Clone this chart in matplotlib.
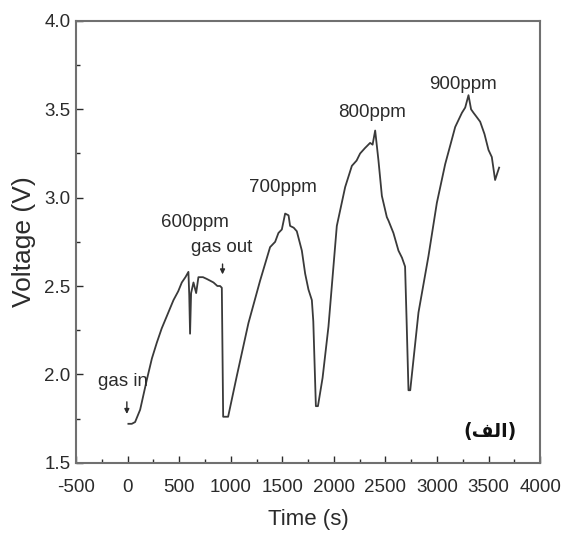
import matplotlib
matplotlib.use("Agg")
import matplotlib.pyplot as plt
from matplotlib.ticker import MultipleLocator

# sensor response: time (s) vs voltage (V)
time_s = [7, 40, 72, 121, 186, 235, 283, 330, 380, 444, 490, 525, 560, 589,
          597, 605, 615, 638, 664, 686, 730, 767, 800, 832, 870, 896, 913,
          926, 950, 974, 1058, 1171, 1284, 1381, 1430, 1462, 1495, 1527, 1560,
          1575, 1610, 1640, 1689, 1721, 1753, 1786, 1800, 1825, 1845, 1890,
          1947, 2028, 2109, 2174, 2220, 2254, 2300, 2351, 2375, 2400, 2432,
          2465, 2513, 2529, 2577, 2626, 2660, 2690, 2705, 2723, 2740, 2820,
          2917, 2998, 3079, 3130, 3176, 3241, 3273, 3305, 3330, 3354, 3380,
          3418, 3460, 3499, 3531, 3563, 3585, 3602]
voltage_v = [1.72, 1.72, 1.73, 1.80, 1.97, 2.09, 2.18, 2.26, 2.33, 2.42, 2.47,
             2.52, 2.55, 2.58, 2.45, 2.23, 2.46, 2.52, 2.46, 2.55, 2.55, 2.54,
             2.53, 2.52, 2.50, 2.50, 2.49, 1.76, 1.76, 1.76, 1.99, 2.29, 2.53,
             2.72, 2.75, 2.80, 2.82, 2.91, 2.90, 2.84, 2.83, 2.81, 2.70, 2.57,
             2.48, 2.42, 2.30, 1.82, 1.82, 1.98, 2.27, 2.84, 3.06, 3.18, 3.21,
             3.25, 3.28, 3.31, 3.30, 3.38, 3.21, 3.01, 2.89, 2.87, 2.80, 2.70,
             2.66, 2.61, 2.30, 1.91, 1.91, 2.35, 2.67, 2.97, 3.19, 3.30, 3.40,
             3.48, 3.51, 3.58, 3.50, 3.48, 3.46, 3.43, 3.36, 3.27, 3.23, 3.10,
             3.14, 3.17]

ppm_labels = ["600ppm", "700ppm", "800ppm", "900ppm"]
ppm_x = [654, 1510, 2370, 3253]
ppm_y = [2.86, 3.06, 3.48, 3.64]

plt.rcParams["font.family"] = ["Liberation Sans", "DejaVu Sans"]
ink = "#2b2b2b"

fig = plt.figure(figsize=(5.68, 5.38), dpi=100)
ax = fig.add_axes([0.134, 0.140, 0.817, 0.821])

ax.plot(time_s, voltage_v, color="#3a3a3a", linewidth=1.3)

ax.set_xlim(-500, 4000)
ax.set_ylim(1.5, 4.0)
ax.xaxis.set_major_locator(MultipleLocator(500))
ax.xaxis.set_minor_locator(MultipleLocator(250))
ax.yaxis.set_major_locator(MultipleLocator(0.5))
ax.yaxis.set_minor_locator(MultipleLocator(0.25))
ax.xaxis.set_major_formatter(lambda v, p: f"{v:.0f}")
ax.yaxis.set_major_formatter(lambda v, p: f"{v:.1f}")
ax.tick_params(which="both", direction="in", top=False, right=False,
               labelsize=13.5, colors=ink, width=1.0)
ax.tick_params(which="major", length=5)
ax.tick_params(which="minor", length=3)
ax.tick_params(axis="x", which="major", pad=12)
ax.tick_params(axis="y", which="major", pad=4)
for sp in ax.spines.values():
    sp.set_color("#707070")
    sp.set_linewidth(1.5)

ax.set_xlabel("Time (s)", fontsize=16, color=ink, labelpad=9)
ax.set_ylabel("Voltage (V)", fontsize=19, color=ink, labelpad=6)

for lab, x, y in zip(ppm_labels, ppm_x, ppm_y):
    ax.text(x, y, lab, fontsize=13.5, ha="center", va="center", color=ink)

ax.text(-44, 1.96, "gas in", fontsize=13.5, ha="center", va="center", color=ink)
ax.text(913, 2.72, "gas out", fontsize=13.5, ha="center", va="center", color=ink)
ax.annotate("", xy=(-8, 1.76), xytext=(-8, 1.86),
            arrowprops=dict(arrowstyle="-|>", color=ink, lw=1, mutation_scale=7))
ax.annotate("", xy=(920, 2.55), xytext=(920, 2.64),
            arrowprops=dict(arrowstyle="-|>", color=ink, lw=1, mutation_scale=7))

# panel tag "(الف)", written with Arabic presentation forms in visual order
tag = "(" + "\ufed2\ufedf\ufe8d" + ")"
ax.text(3515, 1.674, tag, fontsize=13.5, fontweight="bold", ha="center", va="center",
        family=["DejaVu Sans"], color="#111111")

fig.savefig("out.png", dpi=100)
